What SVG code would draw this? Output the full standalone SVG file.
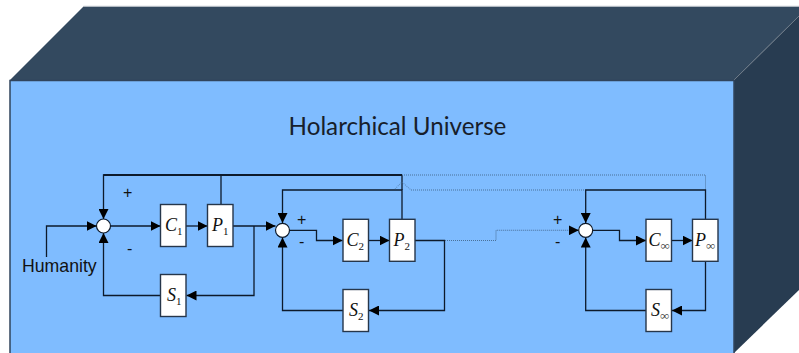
<svg xmlns="http://www.w3.org/2000/svg" width="799" height="353" viewBox="0 0 799 353">
<style>
.w{fill:none;stroke:#0d1a2b;stroke-width:1.3}
.d{fill:none;stroke:#4a7199;stroke-width:1.1;stroke-dasharray:1 1}
.b{fill:#fff;stroke:#26364a;stroke-width:1.4}
.j{fill:#fff;stroke:#0d1a2b;stroke-width:1.2}
.v{font-family:"Liberation Serif",serif;font-style:italic;font-size:18px;fill:#111}
.s{font-family:"Liberation Serif",serif;font-style:normal;font-size:11px;fill:#111}
.i{font-family:"Liberation Serif",serif;font-style:normal;font-size:13px;fill:#444}
.l{font-family:"Liberation Sans",sans-serif;font-size:16px;fill:#111}
</style>
<defs>
<marker id="a" markerUnits="userSpaceOnUse" markerWidth="10" markerHeight="10" refX="10" refY="5" orient="auto"><path d="M0 0L10 5L0 10Z" fill="#000"/></marker>
</defs>
<polygon points="10,80 83.5,6.5 799,6.5 799,16 734,80" fill="#33495f"/>
<line x1="83.5" y1="6.3" x2="799" y2="6.3" stroke="#b8bec6" stroke-width="1"/>
<polygon points="734,80 799,16 799,290 734,353" fill="#283c51"/>
<line x1="734" y1="80" x2="799" y2="16" stroke="#6f7b88" stroke-width="1"/>
<g id="front"><rect x="10" y="80.5" width="724" height="280" fill="#7fbcff" stroke="#30445c" stroke-width="1.5"/></g>
<text x="397.5" y="135" text-anchor="middle" font-family="Lato,sans-serif" font-size="24.200" fill="#17202b">Holarchical Universe</text>
<g id="connectors">
<path class="w" d="M46.500 257V226H96.500" marker-end="url(#a)"/>
<path class="w" d="M221 204.500V175H103.500V219" marker-end="url(#a)"/>
<path class="w" style="stroke-width:1.800" d="M103.500 175H402"/>
<path class="w" d="M110.500 226H160.500" marker-end="url(#a)"/>
<path class="w" d="M186 226H207.500" marker-end="url(#a)"/>
<path class="w" d="M233 226H275.500" marker-end="url(#a)"/>
<path class="w" d="M254 226V295.500H186.500" marker-end="url(#a)"/>
<path class="w" d="M160.500 295.500H103.500V233" marker-end="url(#a)"/>
<path class="w" d="M402 219.500V190H282.500V223" marker-end="url(#a)"/>
<path class="w" d="M402 190V175"/>
<path class="w" d="M289.500 230.300H316.500V240.500H342.500" marker-end="url(#a)"/>
<path class="w" d="M368.500 240.500H389.500" marker-end="url(#a)"/>
<path class="w" d="M415 240.500H444.500V310.500H369" marker-end="url(#a)"/>
<path class="w" d="M343 310.500H282.500V237.500" marker-end="url(#a)"/>
<path class="d" d="M402 175H705.500V190"/>
<path class="d" style="opacity:.6" d="M395 189L402 182L411 190"/>
<path class="d" d="M411 190H585"/>
<path class="d" d="M445 240.500H496V230.300H569"/>
<path class="w" d="M705.500 219.500V190H585.700V223" marker-end="url(#a)"/>
<path class="w" d="M569 230.300H578.700" marker-end="url(#a)"/>
<path class="w" d="M592.700 230.300H619.500V240.500H646" marker-end="url(#a)"/>
<path class="w" d="M671.500 240.500H692.500" marker-end="url(#a)"/>
<path class="w" d="M705.500 261.500V310.500H672" marker-end="url(#a)"/>
<path class="w" d="M646 310.500H585.700V237.500" marker-end="url(#a)"/>
</g>
<g id="j1"><circle class="j" cx="103.500" cy="226" r="7"/></g>
<g id="j2"><circle class="j" cx="282.500" cy="230.300" r="7"/></g>
<g id="j3"><circle class="j" cx="585.700" cy="230.300" r="7"/></g>
<g id="c1"><rect class="b" x="160.500" y="204.500" width="25.500" height="42"/><text class="v" x="165" y="231">C<tspan class="s" dy="4">1</tspan></text></g>
<g id="p1"><rect class="b" x="207.500" y="204.500" width="25.500" height="42"/><text class="v" x="212" y="231">P<tspan class="s" dy="4">1</tspan></text></g>
<g id="s1"><rect class="b" x="160.500" y="274.500" width="25.500" height="42"/><text class="v" x="167" y="301">S<tspan class="s" dy="4">1</tspan></text></g>
<g id="c2"><rect class="b" x="343" y="219.300" width="25.500" height="42"/><text class="v" x="346.500" y="246">C<tspan class="s" dy="4">2</tspan></text></g>
<g id="p2"><rect class="b" x="389.500" y="219.300" width="25.500" height="42"/><text class="v" x="393.500" y="246">P<tspan class="s" dy="4">2</tspan></text></g>
<g id="s2"><rect class="b" x="343" y="289.500" width="25.500" height="42"/><text class="v" x="349" y="316">S<tspan class="s" dy="4">2</tspan></text></g>
<g id="cinf"><rect class="b" x="646" y="219.300" width="25.500" height="42"/><text class="v" x="648.500" y="246">C<tspan class="i" dy="4">∞</tspan></text></g>
<g id="pinf"><rect class="b" x="692.500" y="219.300" width="25.500" height="42"/><text class="v" x="695" y="246">P<tspan class="i" dy="4">∞</tspan></text></g>
<g id="sinf"><rect class="b" x="646" y="289.500" width="25.500" height="42"/><text class="v" x="651" y="316">S<tspan class="i" dy="4">∞</tspan></text></g>
<g id="labels">
<text x="22" y="272" font-family="Liberation Sans,sans-serif" font-size="17.700" fill="#111">Humanity</text>
<text class="l" x="123" y="198">+</text><text class="l" x="127" y="254">-</text>
<text class="l" x="297" y="225">+</text><text class="l" x="299" y="247">-</text>
<text class="l" x="553" y="225">+</text><text class="l" x="555" y="247">-</text>
</g>
</svg>
